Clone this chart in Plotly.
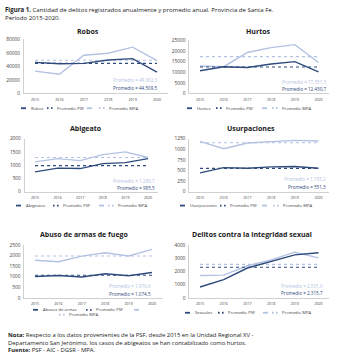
import plotly.graph_objects as go

W, H = 347, 360
DARK = "#2f4b7c"
LIGHT = "#b3c2e2"
TXT = "#404040"
AX = "#d0d0d0"
FONT = "Open Sans"

years = ["2015", "2016", "2017", "2018", "2019", "2020"]

titles = ["Robos", "Hurtos", "Abigeato", "Usurpaciones",
          "Abuso de armas de fuego", "Delitos contra la integridad sexual"]
series_names = ["Robos", "Hurtos", "Abigeatos", "Usurpaciones", "Abusos de armas", "Sexuales"]

psf_robos = [46000, 44000, 44500, 49500, 51500, 31500]
mpa_robos = [33000, 28500, 56500, 59500, 68500, 48500]
psf_hurtos = [10700, 12600, 12200, 13900, 15000, 10200]
mpa_hurtos = [12900, 12600, 19300, 21600, 23000, 14600]
psf_abigeato = [750, 890, 875, 1060, 1100, 1250]
mpa_abigeato = [1125, 1250, 1175, 1400, 1505, 1290]
psf_usurp = [445, 570, 555, 586, 594, 555]
mpa_usurp = [1187, 1015, 1148, 1172, 1211, 1195]
psf_armas = [1010, 1060, 990, 1140, 1050, 1200]
mpa_armas = [1780, 1710, 1970, 2130, 1980, 2290]
psf_sexual = [830, 1390, 2260, 2750, 3250, 3410]
mpa_sexual = [1700, 1720, 2430, 2870, 3450, 3020]

psf_series = [psf_robos, psf_hurtos, psf_abigeato, psf_usurp, psf_armas, psf_sexual]
mpa_series = [mpa_robos, mpa_hurtos, mpa_abigeato, mpa_usurp, mpa_armas, mpa_sexual]

avg_psf = [44509.5, 12430.7, 985.5, 551.3, 1074.5, 2315.7]
avg_mpa = [49062.3, 17351.3, 1290.7, 1153.2, 1976.6, 2531.6]
avg_psf_labels = ["44.509,5", "12.430,7", "985,5", "551,3", "1.074,5", "2.315,7"]
avg_mpa_labels = ["49.062,3", "17.351,3", "1.290,7", "1.153,2", "1.976,6", "2.531,6"]
y_max = [80000, 25000, 2000, 1250, 2500, 4000]
y_step = [20000, 5000, 500, 250, 500, 1000]

# layout (pixels)
x15 = [35, 200, 35, 200, 35, 200]
x20 = [157, 318.5, 148, 318.5, 152, 318.5]
ytop = [37, 38, 138, 138, 246, 246]
ybot = [92, 92, 192, 192, 300, 300]
title_pos = [(88, 29), (258, 29), (86, 128), (251, 128), (84, 235), (252, 235)]
ann_pos = [(160, 78, 86), (329, 80, 87), (157, 181, 188), (328, 179, 187), (153, 288, 296), (325, 288, 295)]
PAD = 0.45


def px(x):
    return x / W


def py(y):
    return 1 - y / H


fig = go.Figure()
annotations = []
shapes = []

for i in range(6):
    n = "" if i == 0 else str(i + 1)
    s = (x20[i] - x15[i]) / 5
    dom_x = [px(x15[i] - PAD * s), px(x20[i] + PAD * s)]
    dom_y = [py(ybot[i]), py(ytop[i])]
    xa, ya = "x" + n, "y" + n
    fig.add_trace(go.Scatter(x=years, y=mpa_series[i], mode="lines", xaxis=xa, yaxis=ya,
                             line=dict(color=LIGHT, width=1.4), showlegend=False))
    fig.add_trace(go.Scatter(x=years, y=[avg_mpa[i]] * 6, mode="lines", xaxis=xa, yaxis=ya,
                             line=dict(color=LIGHT, width=1.1, dash="dot"), showlegend=False))
    fig.add_trace(go.Scatter(x=years, y=[avg_psf[i]] * 6, mode="lines", xaxis=xa, yaxis=ya,
                             line=dict(color=DARK, width=1.1, dash="dot"), showlegend=False))
    fig.add_trace(go.Scatter(x=years, y=psf_series[i], mode="lines", xaxis=xa, yaxis=ya,
                             line=dict(color=DARK, width=1.4), showlegend=False))
    tv = list(range(0, y_max[i] + 1, y_step[i]))
    fig.layout["xaxis" + n] = dict(domain=dom_x, anchor=ya, type="category",
                                   range=[-PAD, 5 + PAD], showgrid=False, zeroline=False,
                                   showline=True, linecolor=AX, linewidth=1, ticks="",
                                   tickfont=dict(size=3.6, color=TXT, family=FONT),
                                   ticklabelstandoff=2, fixedrange=True)
    fig.layout["yaxis" + n] = dict(domain=dom_y, anchor=xa, range=[0, y_max[i]],
                                   tickvals=tv, ticktext=[str(v) for v in tv],
                                   showgrid=False, zeroline=False, showline=True,
                                   linecolor=AX, linewidth=1, ticks="",
                                   tickfont=dict(size=4.8, color=TXT, family=FONT),
                                   ticklabelstandoff=2, fixedrange=True)
    tx, ty = title_pos[i]
    annotations.append(dict(x=px(tx), y=py(ty), xref="paper", yref="paper", showarrow=False,
                            text="<b>" + titles[i] + "</b>", xanchor="center", yanchor="middle",
                            font=dict(size=7, color="#1a1a1a", family=FONT)))
    ax_, ay1, ay2 = ann_pos[i]
    annotations.append(dict(x=px(ax_), y=py(ay1), xref="paper", yref="paper", showarrow=False,
                            text="Promedio = " + avg_mpa_labels[i], xanchor="right", yanchor="middle",
                            font=dict(size=4.6, color=LIGHT, family=FONT)))
    annotations.append(dict(x=px(ax_), y=py(ay2), xref="paper", yref="paper", showarrow=False,
                            text="Promedio = " + avg_psf_labels[i], xanchor="right", yanchor="middle",
                            font=dict(size=4.6, color=DARK, family=FONT)))

# manual legends: (x_start, y, kind, color, text)
legend_rows = [
    [(21, 107, "solid", DARK, series_names[0]), (47, 107, "dot", DARK, "Promedio PSF"),
     (87, 107, "solid", LIGHT, ""), (99, 107, "dot", LIGHT, "Promedio MPA")],
    [(187, 107, "solid", DARK, series_names[1]), (216, 107, "dot", DARK, "Promedio PSF"),
     (262, 107, "solid", LIGHT, ""), (272, 107, "dot", LIGHT, "Promedio MPA")],
    [(16, 206, "solid", DARK, series_names[2]), (53, 206, "dot", DARK, "Promedio PSF"),
     (99, 206, "solid", LIGHT, ""), (108, 206, "dot", LIGHT, "Promedio MPA")],
    [(180, 206, "solid", DARK, series_names[3]), (220, 206, "dot", DARK, "Promedio PSF"),
     (262, 206, "solid", LIGHT, ""), (273, 206, "dot", LIGHT, "Promedio MPA")],
    [(33, 312, "solid", DARK, series_names[4]), (86, 312, "dot", DARK, "Promedio PSF"),
     (134, 312, "solid", LIGHT, ""), (59, 317, "dot", LIGHT, "Promedio MPA")],
    [(185, 315, "solid", DARK, series_names[5]), (218, 315, "dot", DARK, "Promedio PSF"),
     (263, 315, "solid", LIGHT, ""), (272, 315, "dot", LIGHT, "Promedio MPA")],
]
for row in legend_rows:
    for (lx, ly, kind, col, txt) in row:
        if kind == "solid":
            shapes.append(dict(type="line", xref="paper", yref="paper", x0=px(lx), x1=px(lx + 5),
                               y0=py(ly), y1=py(ly), line=dict(color=col, width=1.8)))
        else:
            for d in (0, 4):
                shapes.append(dict(type="line", xref="paper", yref="paper", x0=px(lx + d), x1=px(lx + d + 1.6),
                                   y0=py(ly), y1=py(ly), line=dict(color=col, width=1.8)))
        if txt:
            annotations.append(dict(x=px(lx + 8), y=py(ly), xref="paper", yref="paper", showarrow=False,
                                    text=txt, xanchor="left", yanchor="middle",
                                    font=dict(size=4.2, color=TXT, family=FONT)))

# figure title and notes
annotations.append(dict(x=px(3), y=py(0.5), xref="paper", yref="paper", showarrow=False, xanchor="left",
                        yanchor="top", align="left",
                        text="<b>Figura 1.</b> Cantidad de delitos registrados anualmente y promedio anual. Provincia de Santa Fe.<br>Período 2015-2020.",
                        font=dict(size=6.1, color="#1a1a1a", family=FONT)))
notes = ("<b>Nota:</b> Respecto a los datos provenientes de la PSF, desde 2015 en la Unidad Regional XV -<br>"
         "Departamento San Jerónimo, los casos de abigeatos se han contabilizado como hurtos.<br>"
         "<b>Fuente:</b> PSF - AIC - DGSR - MPA.")
annotations.append(dict(x=px(6), y=py(332), xref="paper", yref="paper", showarrow=False, xanchor="left",
                        yanchor="top", align="left", text=notes,
                        font=dict(size=5.9, color="#1a1a1a", family=FONT)))

fig.update_layout(width=W, height=H, margin=dict(l=0, r=0, t=0, b=0),
                  paper_bgcolor="white", plot_bgcolor="white", showlegend=False,
                  annotations=annotations, shapes=shapes)
fig.write_html("out.html", config={"displayModeBar": False})
